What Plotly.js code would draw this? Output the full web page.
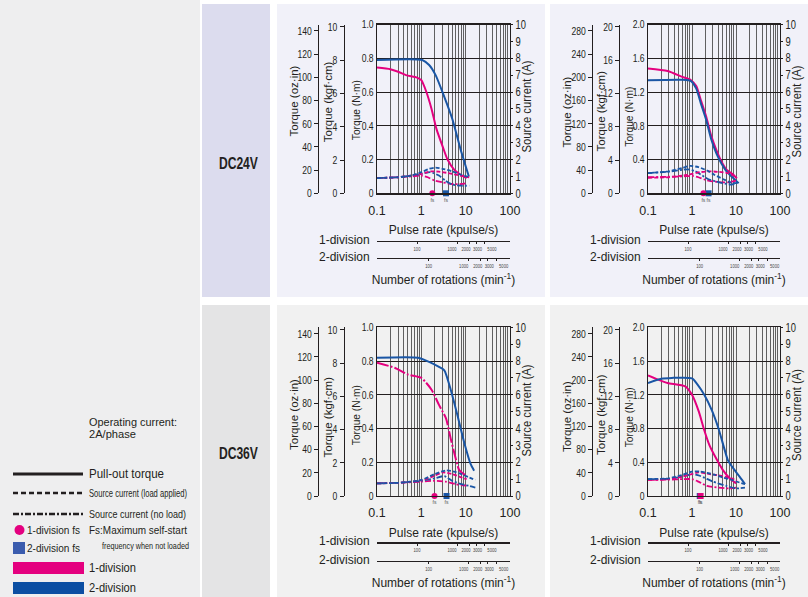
<!DOCTYPE html>
<html><head><meta charset="utf-8">
<script src="https://cdn.plot.ly/plotly-3.0.1.min.js"></script>
<style>html,body{margin:0;padding:0;background:#fff}#chart{width:808px;height:597px}</style>
</head><body><div id="chart"></div>
<script>
// ---------- tick labels ----------
const xMajorTicks = [0.1, 1, 10, 100];
const xMajorLabels = ['0.1', '1', '10', '100'];
const rpmTicks = [100, 1000, 2000, 3000, 5000];
const rpmLabels = ['100', '1000', '2000', '3000', '5000'];
const nm1Ticks = [0, 0.2, 0.4, 0.6, 0.8, 1.0];
const nm1Labels = ['0', '0.2', '0.4', '0.6', '0.8', '1.0'];
const nm2Ticks = [0, 0.4, 0.8, 1.2, 1.6, 2.0];
const nm2Labels = ['0', '0.4', '0.8', '1.2', '1.6', '2.0'];
const kgf1Ticks = [0, 2, 4, 6, 8, 10];
const kgf2Ticks = [0, 4, 8, 12, 16, 20];
const oz1Ticks = [0, 20, 40, 60, 80, 100, 120, 140];
const oz2Ticks = [0, 40, 80, 120, 160, 200, 240, 280];
const ampTicks = [0, 1, 2, 3, 4, 5, 6, 7, 8, 9, 10];

// ---------- DC24V, smaller motor (top-left) ----------
const c1_pull_2div_x = [0.1, 1.05, 1.5, 2.1, 3.2, 5.0, 7.7, 11.8];
const c1_pull_2div_y = [0.79, 0.79, 0.76, 0.70, 0.58, 0.44, 0.26, 0.10];
const c1_pull_1div_x = [0.1, 0.2, 0.3, 0.45, 0.8, 1.0, 1.3, 1.7, 2.2, 3.0, 3.9, 5.5, 7.7, 10.5];
const c1_pull_1div_y = [0.745, 0.735, 0.72, 0.70, 0.685, 0.67, 0.60, 0.50, 0.38, 0.28, 0.20, 0.14, 0.11, 0.09];
const c1_load_2div_x = [0.1, 0.3, 0.6, 1.0, 1.5, 2.1, 3.0, 5.0, 8.0, 12];
const c1_load_2div_y = [0.9, 0.95, 1.05, 1.25, 1.45, 1.52, 1.45, 1.3, 1.1, 0.95];
const c1_load_1div_x = [0.1, 0.3, 0.6, 1.0, 1.6, 2.5, 4.0, 6.0, 9.0, 12];
const c1_load_1div_y = [0.9, 0.95, 1.05, 1.15, 1.3, 1.28, 1.2, 1.1, 1.0, 0.95];
const c1_noload_2div_x = [0.1, 0.3, 0.6, 1.0, 1.6, 2.5, 3.5, 5.0, 8.0, 12];
const c1_noload_2div_y = [0.9, 0.95, 1.05, 1.15, 1.25, 1.05, 0.75, 0.52, 0.45, 0.45];
const c1_noload_1div_x = [0.1, 0.3, 0.6, 1.0, 1.4, 2.0, 3.0, 5.0, 8.0, 10.5];
const c1_noload_1div_y = [0.9, 0.95, 1.0, 1.05, 0.95, 0.75, 0.65, 0.55, 0.55, 0.6];
const c1_fs_1div = 1.77, c1_fs_2div = 3.6;

// ---------- DC24V, larger motor (top-right) ----------
const c2_pull_2div_x = [0.1, 0.6, 0.95, 1.25, 1.6, 2.1, 2.7, 3.6, 4.7, 6.1, 8.7, 11.5];
const c2_pull_2div_y = [1.34, 1.345, 1.33, 1.24, 1.06, 0.87, 0.65, 0.47, 0.35, 0.26, 0.18, 0.12];
const c2_pull_1div_x = [0.1, 0.28, 0.6, 0.95, 1.25, 1.6, 2.1, 2.7, 3.6, 4.7, 6.1, 8.7, 10.3];
const c2_pull_1div_y = [1.48, 1.45, 1.38, 1.34, 1.27, 1.10, 0.91, 0.69, 0.51, 0.375, 0.28, 0.22, 0.18];
const c2_load_2div_x = [0.1, 0.3, 0.6, 0.9, 1.4, 2.2, 3.2, 5.0, 7.5, 11.5];
const c2_load_2div_y = [1.2, 1.3, 1.5, 1.62, 1.55, 1.35, 1.1, 0.85, 0.65, 0.6];
const c2_load_1div_x = [0.1, 0.3, 0.6, 1.0, 1.5, 2.5, 4.0, 6.5, 9.0, 10.5];
const c2_load_1div_y = [0.92, 0.95, 1.05, 1.15, 1.25, 1.3, 1.27, 1.2, 1.05, 0.9];
const c2_noload_2div_x = [0.1, 0.3, 0.8, 1.2, 2.3, 3.5, 5.0, 8.0, 11.5];
const c2_noload_2div_y = [1.2, 1.28, 1.42, 1.3, 0.85, 0.7, 0.6, 0.52, 0.7];
const c2_noload_1div_x = [0.1, 0.3, 0.6, 1.0, 1.4, 2.0, 3.0, 5.0, 7.0, 10.0];
const c2_noload_1div_y = [0.95, 0.98, 1.0, 1.04, 0.95, 0.8, 0.7, 0.65, 0.65, 0.75];
const c2_fs_1div = 1.82, c2_fs_2div = 2.38;

// ---------- DC36V, smaller motor (bottom-left) ----------
const c3_pull_2div_x = [0.1, 0.85, 1.5, 2.5, 3.3, 4.6, 6.5, 9.2, 12.9, 15.5];
const c3_pull_2div_y = [0.82, 0.82, 0.795, 0.765, 0.745, 0.63, 0.48, 0.32, 0.19, 0.15];
const c3_pull_1div_x = [0.1, 0.25, 0.5, 1.0, 1.7, 2.5, 3.6, 4.6, 6.0, 7.1, 8.5, 10.5];
const c3_pull_1div_y = [0.79, 0.76, 0.72, 0.70, 0.63, 0.54, 0.46, 0.34, 0.22, 0.155, 0.135, 0.12];
const c3_load_2div_x = [0.1, 0.3, 1.0, 2.0, 3.6, 5.5, 8.0, 12, 16.5];
const c3_load_2div_y = [0.75, 0.78, 0.95, 1.3, 1.52, 1.45, 1.3, 1.1, 0.95];
const c3_load_1div_x = [0.1, 0.3, 1.0, 2.0, 3.0, 5.0, 8.0, 10.5];
const c3_load_1div_y = [0.75, 0.78, 0.92, 1.2, 1.4, 1.3, 1.1, 1.0];
const c3_noload_2div_x = [0.1, 0.3, 1.0, 2.0, 3.3, 5.0, 8.0, 12, 16.5];
const c3_noload_2div_y = [0.75, 0.78, 0.9, 1.05, 1.18, 0.9, 0.7, 0.6, 0.5];
const c3_noload_1div_x = [0.1, 0.3, 1.0, 2.0, 3.5, 6.0, 8.0, 10.5];
const c3_noload_1div_y = [0.75, 0.78, 0.85, 0.9, 0.85, 0.7, 0.65, 0.62];
const c3_fs_1div = 1.98, c3_fs_2div = 3.7;

// ---------- DC36V, larger motor (bottom-right) ----------
const c4_pull_2div_x = [0.1, 0.2, 0.35, 1.0, 1.3, 1.9, 2.8, 4.0, 5.5, 6.6, 9.5, 12.4, 16];
const c4_pull_2div_y = [1.34, 1.39, 1.40, 1.395, 1.33, 1.20, 1.02, 0.80, 0.55, 0.42, 0.30, 0.22, 0.14];
const c4_pull_1div_x = [0.1, 0.17, 0.28, 0.7, 1.0, 1.43, 1.9, 2.5, 3.5, 5.0, 7.2, 10];
const c4_pull_1div_y = [1.43, 1.38, 1.34, 1.30, 1.20, 1.0, 0.78, 0.60, 0.45, 0.31, 0.21, 0.15];
const c4_load_2div_x = [0.1, 0.3, 0.6, 1.0, 1.5, 3.2, 5.0, 8.0, 12, 16];
const c4_load_2div_y = [1.0, 1.05, 1.25, 1.45, 1.45, 1.27, 1.1, 0.95, 0.8, 0.7];
const c4_load_1div_x = [0.1, 0.3, 0.6, 1.0, 1.4, 2.5, 4.0, 8.0, 10.5];
const c4_load_1div_y = [0.95, 1.0, 1.15, 1.3, 1.4, 1.3, 1.22, 1.05, 0.9];
const c4_noload_2div_x = [0.1, 0.3, 0.6, 1.0, 1.5, 3.0, 6.0, 10, 16];
const c4_noload_2div_y = [1.0, 1.02, 1.15, 1.3, 1.2, 0.85, 0.6, 0.45, 0.5];
const c4_noload_1div_x = [0.1, 0.3, 0.6, 1.0, 1.4, 2.2, 4.0, 7.0, 10];
const c4_noload_1div_y = [0.95, 0.97, 1.0, 1.0, 0.85, 0.6, 0.5, 0.45, 0.5];
const c4_fs_1div = 1.57, c4_fs_2div = 1.5;

// ---------- styling / geometry ----------
const W = 808, H = 597;
const PX = x => x / W, PY = y => 1 - y / H;
const FONT = '"Liberation Sans", Arial, sans-serif';
const PINK = '#e4007f', BLUE = '#1a56a5', INK = '#231f20';
const DASH_LOAD = '4px,2px';
const DASH_NOLOAD = '6px,2px,2px,2px';
const rpmLabelNudge = [0, -5, -3, 1.5, 7];   // label spread along crowded rotation scale (px)

const charts = [
  {d: {p2x:c1_pull_2div_x,p2y:c1_pull_2div_y,p1x:c1_pull_1div_x,p1y:c1_pull_1div_y,l2x:c1_load_2div_x,l2y:c1_load_2div_y,l1x:c1_load_1div_x,l1y:c1_load_1div_y,n2x:c1_noload_2div_x,n2y:c1_noload_2div_y,n1x:c1_noload_1div_x,n1y:c1_noload_1div_y,fs1:c1_fs_1div,fs2:c1_fs_2div},
   col: 0, row: 0, big: false, pinkDash: 'solid'},
  {d: {p2x:c2_pull_2div_x,p2y:c2_pull_2div_y,p1x:c2_pull_1div_x,p1y:c2_pull_1div_y,l2x:c2_load_2div_x,l2y:c2_load_2div_y,l1x:c2_load_1div_x,l1y:c2_load_1div_y,n2x:c2_noload_2div_x,n2y:c2_noload_2div_y,n1x:c2_noload_1div_x,n1y:c2_noload_1div_y,fs1:c2_fs_1div,fs2:c2_fs_2div},
   col: 1, row: 0, big: true, pinkDash: 'solid'},
  {d: {p2x:c3_pull_2div_x,p2y:c3_pull_2div_y,p1x:c3_pull_1div_x,p1y:c3_pull_1div_y,l2x:c3_load_2div_x,l2y:c3_load_2div_y,l1x:c3_load_1div_x,l1y:c3_load_1div_y,n2x:c3_noload_2div_x,n2y:c3_noload_2div_y,n1x:c3_noload_1div_x,n1y:c3_noload_1div_y,fs1:c3_fs_1div,fs2:c3_fs_2div},
   col: 0, row: 1, big: false, pinkDash: '12px,2px,2px,2px'},
  {d: {p2x:c4_pull_2div_x,p2y:c4_pull_2div_y,p1x:c4_pull_1div_x,p1y:c4_pull_1div_y,l2x:c4_load_2div_x,l2y:c4_load_2div_y,l1x:c4_load_1div_x,l1y:c4_load_1div_y,n2x:c4_noload_2div_x,n2y:c4_noload_2div_y,n1x:c4_noload_1div_x,n1y:c4_noload_1div_y,fs1:c4_fs_1div,fs2:c4_fs_2div},
   col: 1, row: 1, big: true, pinkDash: 'solid'}
];

const colGeom = [
  {x0: 377, x1: 510, kgfX: 343.5, ozX: 318, labelRight: 372, tOz: 294, tKgf: 327.5, tNm: 356, tAmp: 527},
  {x0: 648, x1: 780, kgfX: 619, ozX: 592, labelRight: 643, tOz: 566.5, tKgf: 601, tNm: 628.5, tAmp: 797}
];
const rowGeom = [
  {yTop: 24.5, yBot: 193.3, rpm1: 240.7, rpm2: 257.7, tOz: [101.5, 112], tKgf: [101.7, 111.5], tNm: [110, 117], tAmp: [106.5, 111.5]},
  {yTop: 327.3, yBot: 496, rpm1: 542.3, rpm2: 560.7, tOz: [415, 416.6], tKgf: [417, 415], tNm: [415, 417.6], tAmp: [410.6, 415]}
];

// minor log grid: 2..9 within each decade
const xMinorVals = [];
[0.1, 1, 10].forEach(dec => { for (let m = 2; m <= 9; m++) xMinorVals.push(+(dec * m).toPrecision(3)); });

const layout = {
  width: W, height: H, margin: {l: 0, r: 0, t: 0, b: 0},
  paper_bgcolor: '#ffffff', plot_bgcolor: 'rgba(0,0,0,0)',
  showlegend: false, font: {family: FONT, color: INK, size: 11},
  shapes: [], annotations: []
};
const fitWidths = {};   // annotation index -> rendered width (px)
function addText(opts, fitW) {
  layout.annotations.push(Object.assign({xref: 'paper', yref: 'paper', showarrow: false,
    xanchor: 'center', yanchor: 'middle'}, opts));
  if (fitW) fitWidths[layout.annotations.length - 1] = fitW;
}
const traces = [];
const nm = (l, n) => n === 1 ? l : l + n;
const an = (l, n) => n === 1 ? l + 'axis' : l + 'axis' + n;
const rpmAxisIds = [];

const tickFontN = {family: FONT, size: 11, color: INK};
const titleFont = {family: FONT, size: 12, color: INK};

charts.forEach((c, i) => {
  const cg = colGeom[c.col], rg = rowGeom[c.row];
  const xi = i * 3 + 1, yi = i * 4 + 1;
  const X = nm('x', xi), XR1 = nm('x', xi + 1), XR2 = nm('x', xi + 2);
  const Y = nm('y', yi), YK = nm('y', yi + 1), YO = nm('y', yi + 2), YA = nm('y', yi + 3);
  const W0 = cg.x1 - cg.x0;
  rpmAxisIds.push(XR1, XR2);

  layout[an('x', xi)] = {
    type: 'log', range: [-1, 2], domain: [PX(cg.x0), PX(cg.x1)], anchor: Y,
    showline: true, mirror: true, linecolor: INK, linewidth: 1.2,
    tickmode: 'array', tickvals: xMajorTicks, ticktext: xMajorLabels, ticks: '', tickangle: 0,
    showgrid: true, gridcolor: '#3c3c3c', gridwidth: 0.8, zeroline: false,
    minor: {tickmode: 'array', tickvals: xMinorVals, ticks: '', showgrid: true, gridcolor: '#3c3c3c', gridwidth: 0.8},
    tickfont: {family: FONT, size: 12.5, color: INK}, ticklabelstandoff: 5,
    title: {text: 'Pulse rate (kpulse/s)', font: titleFont, standoff: 9}
  };
  const rpmAxis = (pos, offset) => ({
    type: 'log', overlaying: X, anchor: 'free', position: PY(pos),
    range: [3 - offset / 40, 3 + (W0 - offset) / 40],
    showline: true, linecolor: INK, linewidth: 1.5, showgrid: false, zeroline: false,
    tickmode: 'array', tickvals: rpmTicks, ticktext: rpmLabels, ticks: 'outside', ticklen: 2, tickcolor: INK,
    tickangle: 0, tickfont: {family: FONT, size: 5.5, color: '#444'}
  });
  layout[an('x', xi + 1)] = rpmAxis(rg.rpm1, 80);
  layout[an('x', xi + 2)] = Object.assign(rpmAxis(rg.rpm2, 91.7),
    {title: {text: 'Number of rotations (min<sup>-1</sup>)', font: titleFont, standoff: 8}});

  const nmMax = c.big ? 2.0 : 1.0;
  layout[an('y', yi)] = {
    domain: [PY(rg.yBot), PY(rg.yTop)], range: [0, nmMax], anchor: X,
    showline: true, mirror: true, linecolor: INK, linewidth: 1.2,
    tickmode: 'array', tickvals: c.big ? nm2Ticks : nm1Ticks, ticktext: c.big ? nm2Labels : nm1Labels,
    ticks: '', showgrid: true, gridcolor: INK, gridwidth: 1, zeroline: false, tickfont: tickFontN
  };
  layout[an('y', yi + 1)] = {
    overlaying: Y, anchor: 'free', position: PX(cg.kgfX), side: 'left',
    range: [0, c.big ? 20.3 : 10.15], showline: true, linecolor: INK, linewidth: 1,
    tickmode: 'array', tickvals: c.big ? kgf2Ticks : kgf1Ticks, ticks: 'outside', ticklen: 4, tickcolor: INK,
    showgrid: false, zeroline: false, tickfont: tickFontN
  };
  layout[an('y', yi + 2)] = {
    overlaying: Y, anchor: 'free', position: PX(cg.ozX), side: 'left',
    range: [0, c.big ? 291 : 145.5], showline: true, linecolor: INK, linewidth: 1,
    tickmode: 'array', tickvals: c.big ? oz2Ticks : oz1Ticks, ticks: 'outside', ticklen: 4, tickcolor: INK,
    showgrid: false, zeroline: false, tickfont: tickFontN
  };
  layout[an('y', yi + 3)] = {
    overlaying: Y, anchor: X, side: 'right', range: [0, 10],
    showline: true, linecolor: INK, linewidth: 1.2,
    tickmode: 'array', tickvals: ampTicks, ticks: 'outside', ticklen: 2, tickcolor: INK,
    showgrid: false, zeroline: false, tickfont: {family: FONT, size: 12, color: INK}
  };

  // axis titles (rotated)
  const col = c.col;
  addText({text: 'Torque (oz·in)', x: PX(cg.tOz), y: PY(rg.tOz[col]), textangle: -90, font: {family: FONT, size: 11.5, color: INK}});
  addText({text: 'Torque (kgf·cm)', x: PX(cg.tKgf), y: PY(rg.tKgf[col]), textangle: -90, font: {family: FONT, size: 11.5, color: INK}});
  addText({text: 'Torque (N·m)', x: PX(cg.tNm), y: PY(rg.tNm[col]), textangle: -90, font: {family: FONT, size: 11.5, color: INK}}, 60);
  addText({text: 'Source current (A)', x: PX(cg.tAmp), y: PY(rg.tAmp[col]), textangle: -90, font: {family: FONT, size: 12.5, color: INK}}, 92);

  // invisible anchors so the extra axes belong to this chart
  const ghost = (xa, ya, xv) => ({x: [xv], y: [0], xaxis: xa, yaxis: ya, mode: 'markers',
    marker: {opacity: 0}, hoverinfo: 'skip', showlegend: false});
  traces.push(ghost(X, YK, 1), ghost(X, YO, 1), ghost(XR1, Y, 1000), ghost(XR2, Y, 1000));

  const d = c.d;
  const line = (x, y, ya, color, dash, w) => ({x, y, xaxis: X, yaxis: ya, mode: 'lines',
    line: {color, dash, width: w, shape: 'spline', smoothing: 0.6}, hoverinfo: 'skip', showlegend: false});
  traces.push(line(d.n1x, d.n1y, YA, PINK, DASH_NOLOAD, 1.8));
  traces.push(line(d.n2x, d.n2y, YA, BLUE, DASH_NOLOAD, 1.8));
  traces.push(line(d.l1x, d.l1y, YA, PINK, DASH_LOAD, 1.8));
  traces.push(line(d.l2x, d.l2y, YA, BLUE, DASH_LOAD, 1.8));
  traces.push(line(d.p1x, d.p1y, Y, PINK, c.pinkDash, 2));
  traces.push(line(d.p2x, d.p2y, Y, BLUE, 'solid', 2));

  traces.push({x: [d.fs2], y: [0], xaxis: X, yaxis: Y, mode: 'markers+text', text: ['fs'],
    textposition: 'bottom center', textfont: {size: 5, color: '#555'}, cliponaxis: false,
    marker: {symbol: 'square', size: 6, color: BLUE}, hoverinfo: 'skip', showlegend: false});
  traces.push({x: [d.fs1], y: [0], xaxis: X, yaxis: Y, mode: 'markers+text', text: ['fs'],
    textposition: 'bottom center', textfont: {size: 5, color: '#555'}, cliponaxis: false,
    marker: {symbol: c.col === 1 && c.row === 1 ? 'square' : 'circle', size: 6, color: PINK},
    hoverinfo: 'skip', showlegend: false});

  // division labels beside the rotation scales
  [['1-division', rg.rpm1], ['2-division', rg.rpm2]].forEach(([t, yy]) => {
    addText({text: t, x: PX(cg.labelRight), y: PY(yy - 1), xanchor: 'right', yanchor: 'middle',
      font: {family: FONT, size: 12, color: INK}});
  });
});

// ---------- panel backgrounds ----------
const rect = (x0, y0, x1, y1, color, layer) => ({type: 'rect', xref: 'paper', yref: 'paper',
  x0: PX(x0), x1: PX(x1), y0: PY(y1), y1: PY(y0), fillcolor: color, line: {width: 0}, layer: layer || 'below'});
layout.shapes.push(
  rect(0, 0, 200, 597, '#eeeeef'),
  rect(202, 4, 270, 297, '#dcdcee'),
  rect(202, 305, 270, 597, '#e4e4e5'),
  rect(277, 4, 545, 297, '#f1f1f9'),
  rect(550, 4, 808, 297, '#f1f1f9'),
  rect(277, 305, 545, 597, '#f1f1f1'),
  rect(550, 305, 808, 597, '#f1f1f1')
);
addText({text: '<b>DC24V</b>', x: PX(238), y: PY(163), font: {family: FONT, size: 17, color: INK}}, 39);
addText({text: '<b>DC36V</b>', x: PX(238), y: PY(453), font: {family: FONT, size: 17, color: INK}}, 39);

// ---------- key (left panel) ----------
const hline = (x0, x1, y, color, w, dash) => ({type: 'line', xref: 'paper', yref: 'paper',
  x0: PX(x0), x1: PX(x1), y0: PY(y), y1: PY(y), line: {color, width: w, dash}, layer: 'above'});
layout.shapes.push(
  hline(13, 83, 474, INK, 3, 'solid'),
  hline(13, 83, 493, INK, 2.5, '5px,3px'),
  hline(13, 83, 514, INK, 2.5, '6px,2px,2px,2px'),
  {type: 'circle', xref: 'paper', yref: 'paper', x0: PX(14.5), x1: PX(24.5), y0: PY(535), y1: PY(525),
   fillcolor: PINK, line: {width: 0}},
  rect(13, 542, 25, 554, '#3b5cae', 'above'),
  rect(13, 562, 84, 574, PINK, 'above'),
  rect(13, 582, 84, 594, '#0b4ea2', 'above')
);
const key = (t, x, y, size, w) => addText({text: t, x: PX(x), y: PY(y), xanchor: 'left', yanchor: 'middle',
  align: 'left', font: {family: FONT, size, color: INK}}, w);
key('Operating current:', 87, 421.5, 11.5, 88);
key('2A/phase', 87, 433.5, 11.5, 47);
key('Pull-out torque', 87, 474, 12, 75);
key('Source current (load applied)', 87, 493, 10.5, 98);
key('Source current (no load)', 87, 514, 10.5, 97);
key('1-division fs', 25, 530, 11.5, 53);
key('2-division fs', 25, 548, 11.5, 53);
key('Fs:Maximum self-start', 87, 530, 11.5, 98);
key('frequency when not loaded', 100, 546, 9, 87);
key('1-division', 87, 567.5, 12, 47);
key('2-division', 87, 587.5, 12, 47);

function condense(el, factor) {
  const w = el.getComputedTextLength();
  if (w > 0) { el.setAttribute('textLength', (w * factor).toFixed(2)); el.setAttribute('lengthAdjust', 'spacingAndGlyphs'); }
}
Plotly.newPlot('chart', traces, layout, {displayModeBar: false, staticPlot: true}).then(gd => {
  Object.keys(fitWidths).forEach(i => {
    const t = gd.querySelector('g.annotation[data-index="' + i + '"] text.annotation-text');
    if (t) { t.setAttribute('textLength', fitWidths[i]); t.setAttribute('lengthAdjust', 'spacingAndGlyphs'); }
  });
  // narrow, condensed tick numerals as in the printed catalogue
  gd.querySelectorAll('g').forEach(g => {
    const cls = g.getAttribute('class') || '';
    if (/^y\d*tick$/.test(cls)) g.querySelectorAll('text').forEach(t => condense(t, 0.78));
    const m = cls.match(/^(x\d*)tick$/);
    if (m && rpmAxisIds.includes(m[1])) g.querySelectorAll('text').forEach(t => {
      condense(t, 0.75);
      const k = rpmLabels.indexOf(t.textContent.trim());
      if (k > 0) t.setAttribute('transform', (t.getAttribute('transform') || '') + ' translate(' + rpmLabelNudge[k] + ',0)');
    });
  });
});
</script></body></html>
